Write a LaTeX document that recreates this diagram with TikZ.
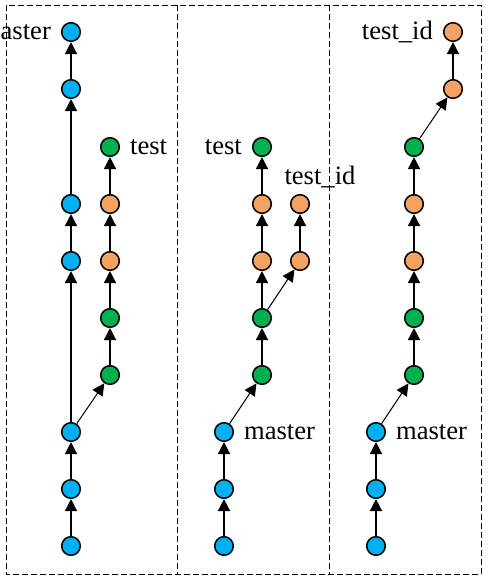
\documentclass[tikz,border=0pt]{standalone}
\usepackage{fontspec}
\setmainfont{Liberation Serif}
\usetikzlibrary{arrows.meta}
\definecolor{cblue}{RGB}{0,176,240}
\definecolor{cgreen}{RGB}{0,176,80}
\definecolor{corange}{RGB}{244,162,97}
\begin{document}
\begin{tikzpicture}[x=0.5pt,y=-0.5pt,
      commit/.style={circle,draw=black,line width=0.75pt,fill=#1,minimum size=9.3pt,inner sep=0pt},
      every label/.append style={font=\fontsize{13.3}{16}\selectfont},
      label distance=1.5pt,
      parent/.style={-{Triangle[length=6pt,width=6pt]},line width=0.75pt},
      branch/.style={-{Triangle[length=6pt,width=6pt]},line width=0.5pt}]
      \useasboundingbox (0,0) rectangle (488,584);
      \draw[dash pattern=on 3pt off 1.5pt,line width=0.5pt] (6,5) rectangle (481,574);
      \draw[dash pattern=on 3pt off 1.5pt,line width=0.5pt] (177,5) -- (177,574);
      \draw[dash pattern=on 3pt off 1.5pt,line width=0.5pt] (329,5) -- (329,574);
      % left
      \node[commit=cblue] (a1) at (71,546) {};
      \node[commit=cblue] (a2) at (71,489) {};
      \node[commit=cblue] (a3) at (71,432) {};
      \node[commit=cblue] (a4) at (71,261) {};
      \node[commit=cblue] (a5) at (71,204) {};
      \node[commit=cblue] (a6) at (71,89) {};
      \node[commit=cblue,label=left:master] (a7) at (71,32) {};
      \node[commit=cgreen] (b1) at (110,375) {};
      \node[commit=cgreen] (b2) at (110,318) {};
      \node[commit=corange] (b3) at (110,261) {};
      \node[commit=corange] (b4) at (110,204) {};
      \node[commit=cgreen,label=right:test] (b5) at (110,147) {};
      \draw[parent] (a1) -- (a2);
      \draw[parent] (a2) -- (a3);
      \draw[parent] (a3) -- (a4);
      \draw[parent] (a4) -- (a5);
      \draw[parent] (a5) -- (a6);
      \draw[parent] (a6) -- (a7);
      \draw[branch] (a3) -- (b1);
      \draw[parent] (b1) -- (b2);
      \draw[parent] (b2) -- (b3);
      \draw[parent] (b3) -- (b4);
      \draw[parent] (b4) -- (b5);
      % middle
      \node[commit=cblue] (c1) at (224,546) {};
      \node[commit=cblue] (c2) at (224,489) {};
      \node[commit=cblue,label=right:master] (c3) at (224,432) {};
      \node[commit=cgreen] (d1) at (262,375) {};
      \node[commit=cgreen] (d2) at (262,318) {};
      \node[commit=corange] (d3) at (262,261) {};
      \node[commit=corange] (d4) at (262,204) {};
      \node[commit=cgreen,label=left:test] (d5) at (262,147) {};
      \node[commit=corange] (e1) at (300,261) {};
      \node[commit=corange,label={[xshift=10pt,label distance=-0.5pt]above:test\_id}] (e2) at (300,204) {};
      \draw[parent] (c1) -- (c2);
      \draw[parent] (c2) -- (c3);
      \draw[branch] (c3) -- (d1);
      \draw[parent] (d1) -- (d2);
      \draw[parent] (d2) -- (d3);
      \draw[parent] (d3) -- (d4);
      \draw[parent] (d4) -- (d5);
      \draw[branch] (d2) -- (e1);
      \draw[parent] (e1) -- (e2);
      % right
      \node[commit=cblue] (f1) at (376,546) {};
      \node[commit=cblue] (f2) at (376,489) {};
      \node[commit=cblue,label=right:master] (f3) at (376,432) {};
      \node[commit=cgreen] (g1) at (414,375) {};
      \node[commit=cgreen] (g2) at (414,318) {};
      \node[commit=corange] (g3) at (414,261) {};
      \node[commit=corange] (g4) at (414,204) {};
      \node[commit=cgreen] (g5) at (414,147) {};
      \node[commit=corange] (h1) at (453,89) {};
      \node[commit=corange,label=left:test\_id] (h2) at (453,32) {};
      \draw[parent] (f1) -- (f2);
      \draw[parent] (f2) -- (f3);
      \draw[branch] (f3) -- (g1);
      \draw[parent] (g1) -- (g2);
      \draw[parent] (g2) -- (g3);
      \draw[parent] (g3) -- (g4);
      \draw[parent] (g4) -- (g5);
      \draw[branch] (g5) -- (h1);
      \draw[parent] (h1) -- (h2);
\end{tikzpicture}
\end{document}
